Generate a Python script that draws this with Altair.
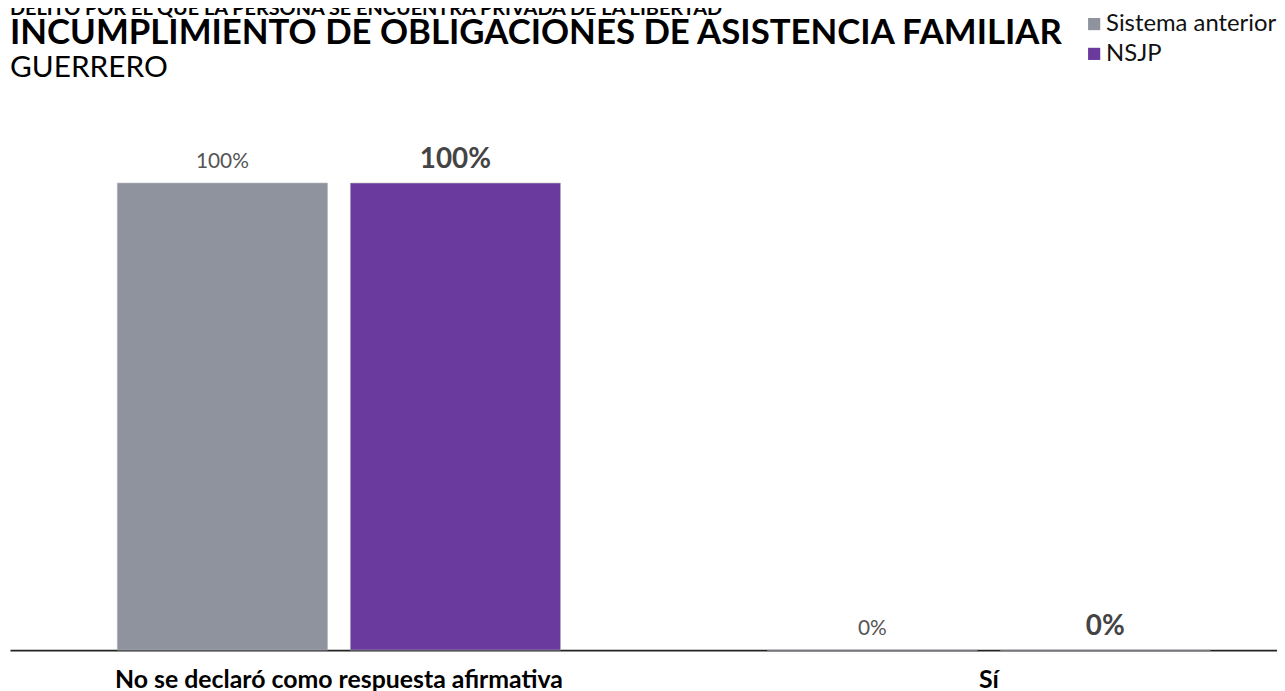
import altair as alt
import pandas as pd

categories = ["No se declaró como respuesta afirmativa", "Sí"]
series = ["Sistema anterior", "NSJP"]
values_anterior = [100, 0]
values_nsjp = [100, 0]
colors = ["#8E939E", "#6A3A9E"]

top_line = "DELITO POR EL QUE LA PERSONA SE ENCUENTRA PRIVADA DE LA LIBERTAD"
main_title = "INCUMPLIMIENTO DE OBLIGACIONES DE ASISTENCIA FAMILIAR"
subtitle = "GUERRERO"

rows = []
for c, a, n in zip(categories, values_anterior, values_nsjp):
    rows.append({"categoria": c, "serie": series[0], "valor": a, "etiqueta": f"{a}%"})
    rows.append({"categoria": c, "serie": series[1], "valor": n, "etiqueta": f"{n}%"})
df = pd.DataFrame(rows)

FONT = "Lato"

x_enc = alt.X(
    "categoria:N",
    sort=categories,
    scale=alt.Scale(range=[0, 1316], paddingInner=0, paddingOuter=0.00612),
    axis=alt.Axis(
        title=None, labelAngle=0, ticks=False, grid=False,
        domainColor="#222222", domainWidth=2,
        labelFont=FONT, labelFontSize=25, labelFontWeight="bold",
        labelColor="#000000", labelPadding=18, labelLimit=800,
    ),
)
xoff_enc = alt.XOffset(
    "serie:N", sort=series,
    scale=alt.Scale(paddingInner=0.098, paddingOuter=0.4435),
)
y_enc = alt.Y("valor:Q", scale=alt.Scale(domain=[0, 100]), axis=None)

base = alt.Chart(df)

bars = base.mark_bar(stroke="#b4b7be", strokeWidth=0.6).encode(
    x=x_enc,
    xOffset=xoff_enc,
    y=y_enc,
    color=alt.Color(
        "serie:N", sort=series,
        scale=alt.Scale(domain=series, range=colors),
        legend=alt.Legend(
            title=None, orient="none", legendX=1079, legendY=-172,
            symbolType="square", symbolSize=150, symbolStrokeWidth=0,
            labelFont=FONT, labelFontSize=24, labelColor="#111111",
            labelLimit=400, rowPadding=6, padding=0, labelOffset=0,
        ),
    ),
)

lab_ant = base.transform_filter(alt.datum.serie == series[0]).mark_text(
    font=FONT, fontSize=21, color="#555555", dy=-15, baseline="alphabetic"
).encode(x=x_enc, xOffset=xoff_enc, y=y_enc, text="etiqueta:N")

lab_nsjp = base.transform_filter(alt.datum.serie == series[1]).mark_text(
    font=FONT, fontSize=28, fontWeight="bold", color="#444444", dy=-15, baseline="alphabetic"
).encode(x=x_enc, xOffset=xoff_enc, y=y_enc, text="etiqueta:N")

t1 = alt.Chart(pd.DataFrame({"t": [top_line]})).mark_text(
    font=FONT, fontSize=20, fontWeight="bold", color="#000000", align="left", baseline="alphabetic"
).encode(x=alt.value(0), y=alt.value(-169.5), text="t:N")

t2 = alt.Chart(pd.DataFrame({"t": [main_title]})).mark_text(
    font=FONT, fontSize=35, fontWeight="bold", color="#000000", align="left", baseline="alphabetic"
).encode(x=alt.value(0), y=alt.value(-140), text="t:N")

t3 = alt.Chart(pd.DataFrame({"t": [subtitle]})).mark_text(
    font=FONT, fontSize=30, color="#000000", align="left", baseline="alphabetic"
).encode(x=alt.value(0), y=alt.value(-107), text="t:N")

chart = alt.layer(bars, lab_ant, lab_nsjp, t1, t2, t3).properties(
    width=1275, height=470,
    autosize=alt.AutoSizeParams(type="none"),
    padding={"left": 2, "top": 174, "right": 0, "bottom": 45},
).configure_view(stroke=None)

chart.save("out.html", embed_options={"renderer": "svg", "actions": False})
